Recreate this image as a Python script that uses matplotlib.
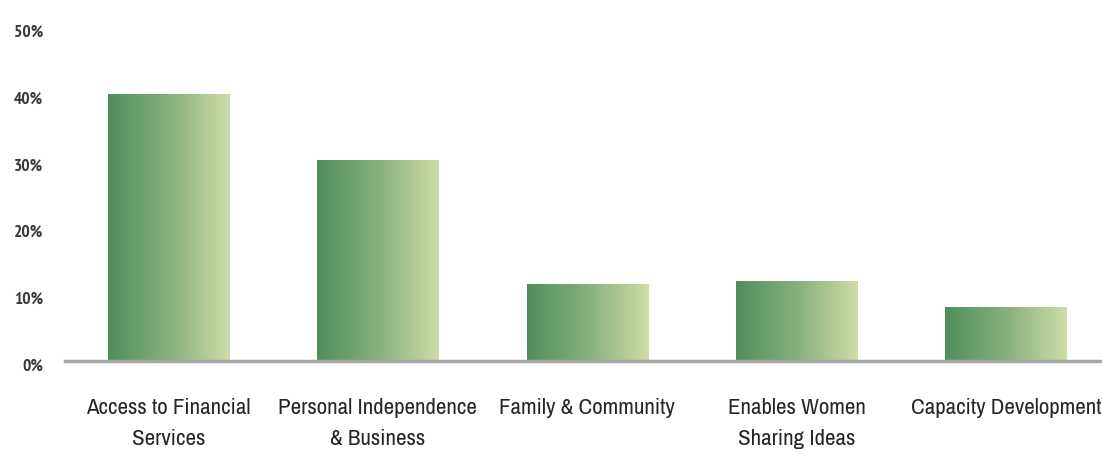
import numpy as np
import matplotlib.pyplot as plt
import matplotlib.transforms as mtransforms
from matplotlib import font_manager
from matplotlib.font_manager import FontProperties
from matplotlib.colors import LinearSegmentedColormap

categories = ['Access to Financial\nServices', 'Personal Independence\n& Business',
              'Family & Community', 'Enables Women\nSharing Ideas', 'Capacity Development']
values = [40, 30, 11.5, 12, 8]
yticks = [0, 10, 20, 30, 40, 50]
ytick_labels = ['0%', '10%', '20%', '30%', '40%', '50%']

REGULAR = (400, 'normal', 'regular')
BOLD = (600, 700, 'bold', 'semibold', 'demibold')


def narrow_font(weights):
    # look for a condensed face of the given weight
    fonts = font_manager.fontManager.ttflist
    for f in fonts:
        if 'Narrow' in f.name and f.style == 'normal' and f.weight in weights:
            return f.fname
    for st in ('condensed', 'semi-condensed', 'extra-condensed'):
        for f in fonts:
            if f.stretch == st and f.style == 'normal' and f.weight in weights:
                return f.fname
    for f in fonts:
        if 'Condensed' in f.name and f.style == 'normal' and f.weight in weights:
            return f.fname
    return None


reg_path = narrow_font(REGULAR)
bold_path = narrow_font(BOLD) or reg_path
if reg_path:
    lab_font = FontProperties(fname=reg_path, size=16.5)
    y_font = FontProperties(fname=bold_path, size=12.5)
else:
    lab_font = FontProperties(family='Roboto', size=14)
    y_font = FontProperties(family='Roboto', size=11, weight='bold')

green = LinearSegmentedColormap.from_list('grn', ['#4f8f5c', '#86b07c', '#cfdca8'])
grad = np.linspace(0, 1, 256).reshape(1, -1)

fig = plt.figure(figsize=(11.02, 4.57), dpi=100)
ax = fig.add_axes([0.059, 0.2107, 0.941, 0.7304])

x = np.arange(len(categories))
bars = ax.bar(x, values, width=0.58, color='none', edgecolor='none', zorder=2)
for b in bars:
    x0, y0 = b.get_x(), b.get_y()
    im = ax.imshow(grad, cmap=green, aspect='auto', zorder=2,
                   extent=[x0, x0 + b.get_width(), y0, y0 + b.get_height()])
    im.set_clip_path(b)

ax.set_xlim(-0.494, 4.458)
ax.set_ylim(0, 50)
ax.set_xticks(x)
ax.set_xticklabels(categories, fontproperties=lab_font, color='#262626', linespacing=1.7)
ax.set_yticks(yticks)
ax.set_yticklabels(ytick_labels, fontproperties=y_font, color='#3a3a3a')
ax.tick_params(axis='x', length=0, pad=27)
ax.tick_params(axis='y', length=0, pad=16)

# y labels sit a little below their gridline value
shift = mtransforms.ScaledTranslation(0, -4 / 100, fig.dpi_scale_trans)
for lab in ax.get_yticklabels():
    lab.set_transform(lab.get_transform() + shift)

for s in ['top', 'right', 'left']:
    ax.spines[s].set_visible(False)
ax.spines['bottom'].set_color('#a8a8a8')
ax.spines['bottom'].set_linewidth(2.5)
ax.spines['bottom'].set_zorder(3)

fig.savefig('out.png', dpi=100)
